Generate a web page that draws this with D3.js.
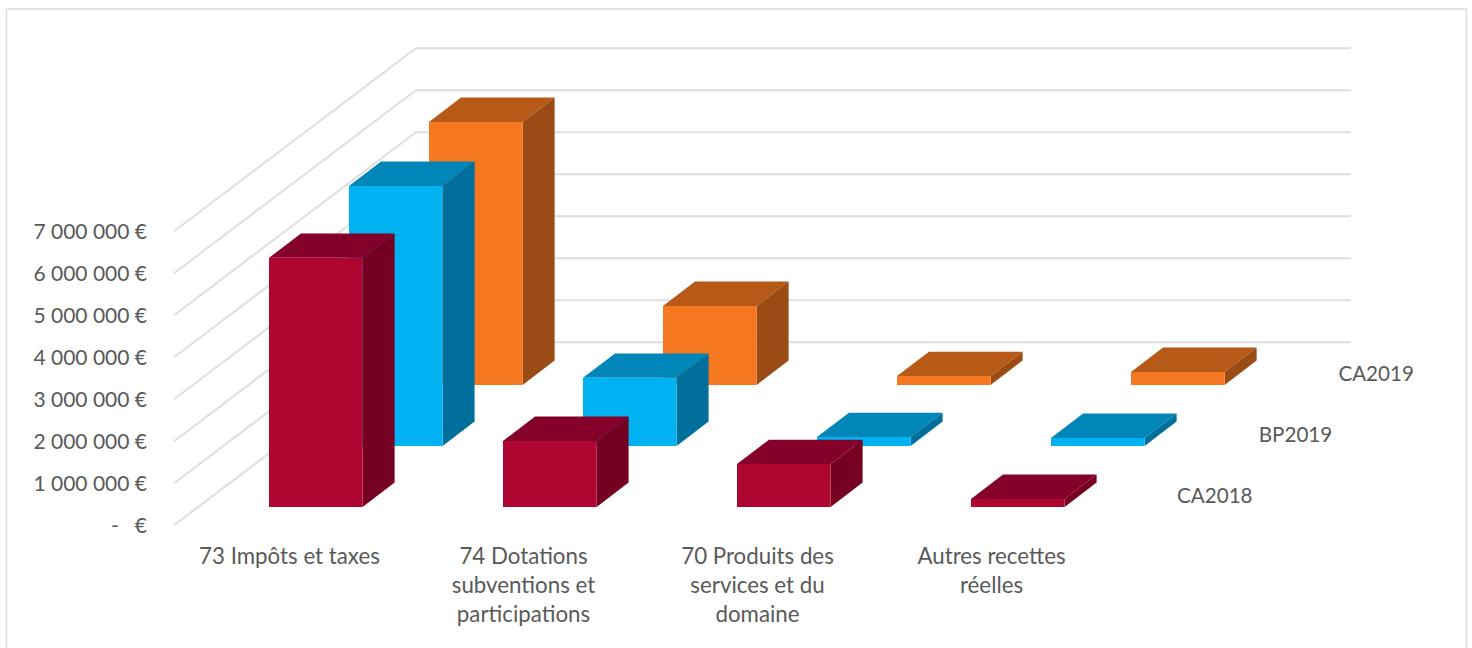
<!DOCTYPE html>
<html><head><meta charset="utf-8">
<script src="https://cdnjs.cloudflare.com/ajax/libs/d3/7.8.5/d3.min.js"></script>
<style>html,body{margin:0;padding:0;background:#fff;overflow:hidden}svg{display:block}text{font-family:Lato,Carlito,sans-serif;fill:#595959}</style>
</head><body><svg id="c" width="1472" height="648"></svg>
<script>
const categories = [["73 Impôts et taxes"],["74 Dotations","subventions et","participations"],["70 Produits des","services et du","domaine"],["Autres recettes","réelles"]];
const seriesNames = ["CA2018","BP2019","CA2019"];
const CA2018 = [5930000,1570000,1020000,190000];
const BP2019 = [6190000,1620000,210000,190000];
const CA2019 = [6260000,1880000,210000,310000];
const yTicks = [0,1000000,2000000,3000000,4000000,5000000,6000000,7000000];
const yLabels = ["-   €","1 000 000 €","2 000 000 €","3 000 000 €","4 000 000 €","5 000 000 €","6 000 000 €","7 000 000 €"];
const faceColors = {CA2018:["#ae0630","#84002a","#750022"],BP2019:["#00b2f2","#0086b8","#006f9c"],CA2019:["#f57820","#b85a17","#9a4c14"]};
const values = {CA2018,BP2019,CA2019};

const svg = d3.select("#c");
svg.append("rect").attr("x",6.5).attr("y",9).attr("width",1460).attr("height",660).attr("fill","#fff").attr("stroke","#dcdcdc").attr("stroke-width",1.5);

const x = d3.scaleBand().domain(d3.range(categories.length)).range([174.8,1110.8]).paddingInner(0.6).paddingOuter(0.3);
const xOuter = d3.scaleBand().domain(d3.range(categories.length)).range([174,1110]);
const depth = d3.scaleBand().domain(seriesNames).range([0,1]).paddingInner(0.6).paddingOuter(0.3);
const depthX = d3.scaleLinear().domain([0,1]).range([0,242]);
const barDepthX = d3.scaleLinear().domain([0,1]).range([0,240]);
const depthY = d3.scaleLinear().domain([0,1]).range([0,-183]);
const y = d3.scaleLinear().domain([0,7000000]).range([525.2,231.2]);
const P = (px,t,v)=>[px+depthX(t), y(v)+depthY(t)];
const B = (px,t,v)=>[px+barDepthX(t), y(v)+depthY(t)];
const line = d3.line();

// grid
svg.append("g").selectAll("path").data(yTicks).join("path")
  .attr("d",v=>line([P(174,0,v),P(174,1,v),P(1109,1,v)]))
  .attr("fill","none").attr("stroke","#dedede").attr("stroke-width",2);

// bars: back to front
[...seriesNames].reverse().forEach(s=>{
  const g = svg.append("g");
  const t0 = depth(s), t1 = t0+depth.bandwidth();
  values[s].forEach((v,i)=>{
    const a=x(i), b=x(i)+x.bandwidth();
    const [front,top,side]=faceColors[s];
    g.append("path").attr("fill",top).attr("d",line([B(a,t0,v),B(b,t0,v),B(b,t1,v),B(a,t1,v)])+"Z");
    g.append("path").attr("fill",side).attr("d",line([B(b,t0,0),B(b,t1,0),B(b,t1,v),B(b,t0,v)])+"Z");
    g.append("path").attr("fill",front).attr("d",line([B(a,t0,0),B(b,t0,0),B(b,t0,v),B(a,t0,v)])+"Z");
  });
});

// y labels
svg.append("g").selectAll("text").data(yTicks).join("text")
  .attr("x",147).attr("y",v=>y(v)).attr("dy","0.35em").attr("text-anchor","end")
  .attr("font-size",21).style("white-space","pre").text((v,i)=>yLabels[i]);
// category labels
categories.forEach((lines,i)=>{
  lines.forEach((l,j)=>svg.append("text").attr("x",xOuter(i)+xOuter.bandwidth()/2-1.5).attr("y",556+j*29).attr("dy","0.35em")
    .attr("text-anchor","middle").attr("font-size",22.3).text(l));
});
// series labels
svg.append("g").selectAll("text").data(seriesNames).join("text")
  .attr("x",s=>1110+depthX(depth(s)+depth.bandwidth()/2)+64.5)
  .attr("y",s=>526+depthY(depth(s)+depth.bandwidth()/2)).attr("dy","0.35em")
  .attr("text-anchor","middle").attr("font-size",20.6).text(s=>s);
</script></body></html>
